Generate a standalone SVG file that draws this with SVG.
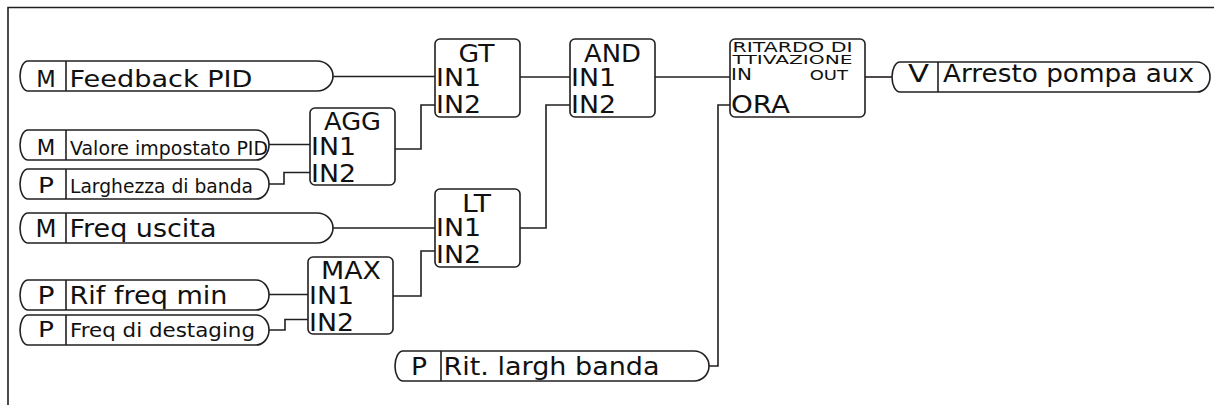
<svg xmlns="http://www.w3.org/2000/svg" width="1214" height="405" viewBox="0 0 1214 405">
<style>
.ln{fill:none;stroke:#231f20;stroke-width:1.6}
.pill{fill:#fff;stroke:#231f20;stroke-width:1.6}
.blk{fill:#fff;stroke:#231f20;stroke-width:1.6}
text{font-family:"DejaVu Sans","Liberation Sans",sans-serif;fill:#111}
.bt{font-size:25px}
.mid{text-anchor:middle}
</style>
<rect width="1214" height="405" fill="#fff"/>
<path class="ln" d="M8,405 V7.5 H1214"/>
<g id="connectors">
<path class="ln" d="M333,76.5 H435"/>
<path class="ln" d="M269,144.5 H310"/>
<path class="ln" d="M269,184 H284 V172.5 H310"/>
<path class="ln" d="M395,149 H421 V105 H435"/>
<path class="ln" d="M520,77 H570"/>
<path class="ln" d="M520,228 H546 V105 H570"/>
<path class="ln" d="M333,228 H435"/>
<path class="ln" d="M393,296 H421 V251 H435"/>
<path class="ln" d="M269,294.5 H308"/>
<path class="ln" d="M269,330 H285 V319.5 H308"/>
<path class="ln" d="M655,77 H730"/>
<path class="ln" d="M709,366 H718 V105 H730"/>
<path class="ln" d="M865,77 H892"/>
</g>
<g id="in-feedback">
<path class="pill" d="M28,61 H317 A16,15 0 0 1 317,91 H28 A8,15 0 0 1 28,61 Z"/>
<path class="ln" d="M66,61 V91"/>
<text x="46" y="87.3" font-size="22.5" class="mid" textLength="19.5" lengthAdjust="spacingAndGlyphs">M</text>
<text x="69.5" y="87.3" font-size="22.5" textLength="183" lengthAdjust="spacingAndGlyphs">Feedback PID</text>
</g>
<g id="in-valore">
<path class="pill" d="M28,130 H256 A13,15 0 0 1 256,160 H28 A8,15 0 0 1 28,130 Z"/>
<path class="ln" d="M66,130 V160"/>
<text x="46" y="155" font-size="21" class="mid" textLength="18.5" lengthAdjust="spacingAndGlyphs">M</text>
<text x="70" y="155" font-size="19.5" textLength="198" lengthAdjust="spacingAndGlyphs">Valore impostato PID</text>
</g>
<g id="in-larghezza">
<path class="pill" d="M28,169 H256 A13,15 0 0 1 256,199 H28 A8,15 0 0 1 28,169 Z"/>
<path class="ln" d="M66,169 V199"/>
<text x="46" y="193.3" font-size="20.5" class="mid" textLength="16" lengthAdjust="spacingAndGlyphs">P</text>
<text x="70" y="193.3" font-size="18.6" textLength="183" lengthAdjust="spacingAndGlyphs">Larghezza di banda</text>
</g>
<g id="in-frequscita">
<path class="pill" d="M28,213 H317 A16,15 0 0 1 317,243 H28 A8,15 0 0 1 28,213 Z"/>
<path class="ln" d="M66,213 V243"/>
<text x="46" y="236.7" font-size="25.5" class="mid" textLength="21" lengthAdjust="spacingAndGlyphs">M</text>
<text x="69.5" y="236.7" font-size="25.5" textLength="147" lengthAdjust="spacingAndGlyphs">Freq uscita</text>
</g>
<g id="in-riffreq">
<path class="pill" d="M28,280 H256 A13,15 0 0 1 256,310 H28 A8,15 0 0 1 28,280 Z"/>
<path class="ln" d="M66,280 V310"/>
<text x="46" y="304" font-size="24.7" class="mid" textLength="17" lengthAdjust="spacingAndGlyphs">P</text>
<text x="69.5" y="304" font-size="24.7" textLength="158" lengthAdjust="spacingAndGlyphs">Rif freq min</text>
</g>
<g id="in-destaging">
<path class="pill" d="M28,315 H256 A13,15 0 0 1 256,345 H28 A8,15 0 0 1 28,315 Z"/>
<path class="ln" d="M66,315 V345"/>
<text x="46" y="336.7" font-size="20.5" class="mid" textLength="16" lengthAdjust="spacingAndGlyphs">P</text>
<text x="70" y="336.7" font-size="19.5" textLength="185" lengthAdjust="spacingAndGlyphs">Freq di destaging</text>
</g>
<g id="in-ritlargh">
<path class="pill" d="M403,351 H694 A15,15 0 0 1 694,381 H403 A8,15 0 0 1 403,351 Z"/>
<path class="ln" d="M441,351 V381"/>
<text x="419" y="375" font-size="24.3" class="mid" textLength="16" lengthAdjust="spacingAndGlyphs">P</text>
<text x="443.5" y="375" font-size="24.3" textLength="216" lengthAdjust="spacingAndGlyphs">Rit. largh banda</text>
</g>
<g id="out-arresto">
<path class="pill" d="M900,62 H1197 A13,15 0 0 1 1197,92 H900 A8,15 0 0 1 900,62 Z"/>
<path class="ln" d="M938,62 V92"/>
<text x="918.5" y="82" font-size="25" class="mid" textLength="21" lengthAdjust="spacingAndGlyphs">V</text>
<text x="943" y="82" font-size="25" textLength="251" lengthAdjust="spacingAndGlyphs">Arresto pompa aux</text>
</g>
<g id="blk-agg">
<rect class="blk" x="310" y="108" width="85" height="77" rx="5"/>
<text x="352.5" y="130" class="bt mid" textLength="57" lengthAdjust="spacingAndGlyphs">AGG</text>
<text x="311" y="155" class="bt" textLength="45" lengthAdjust="spacingAndGlyphs">IN1</text>
<text x="311" y="182" class="bt" textLength="45" lengthAdjust="spacingAndGlyphs">IN2</text>
</g>
<g id="blk-gt">
<rect class="blk" x="435" y="39" width="85" height="78" rx="5"/>
<text x="476.5" y="62" class="bt mid" textLength="36" lengthAdjust="spacingAndGlyphs">GT</text>
<text x="436" y="86" class="bt" textLength="45" lengthAdjust="spacingAndGlyphs">IN1</text>
<text x="436" y="113" class="bt" textLength="45" lengthAdjust="spacingAndGlyphs">IN2</text>
</g>
<g id="blk-and">
<rect class="blk" x="570" y="39" width="85" height="78" rx="5"/>
<text x="612.5" y="62" class="bt mid" textLength="57" lengthAdjust="spacingAndGlyphs">AND</text>
<text x="571" y="86" class="bt" textLength="45" lengthAdjust="spacingAndGlyphs">IN1</text>
<text x="571" y="113" class="bt" textLength="45" lengthAdjust="spacingAndGlyphs">IN2</text>
</g>
<g id="blk-ritardo">
<rect class="blk" x="730" y="39" width="135" height="78" rx="5"/>
<text transform="translate(792.5,52) scale(1,0.72)" font-size="20" class="mid" textLength="120" lengthAdjust="spacingAndGlyphs">RITARDO DI</text>
<text transform="translate(792.5,63.5) scale(1,0.62)" font-size="19.7" class="mid" textLength="120" lengthAdjust="spacingAndGlyphs">TTIVAZIONE</text>
<text transform="translate(731,80) scale(1,0.78)" font-size="20">IN</text>
<text transform="translate(848,80) scale(1,0.78)" font-size="18" text-anchor="end">OUT</text>
<text x="731" y="113" font-size="25" textLength="59" lengthAdjust="spacingAndGlyphs">ORA</text>
</g>
<g id="blk-lt">
<rect class="blk" x="435" y="189" width="85" height="78" rx="5"/>
<text x="476.5" y="212" class="bt mid" textLength="29" lengthAdjust="spacingAndGlyphs">LT</text>
<text x="436" y="236" class="bt" textLength="45" lengthAdjust="spacingAndGlyphs">IN1</text>
<text x="436" y="263" class="bt" textLength="45" lengthAdjust="spacingAndGlyphs">IN2</text>
</g>
<g id="blk-max">
<rect class="blk" x="308" y="257" width="85" height="77" rx="5"/>
<text x="351" y="279" class="bt mid" textLength="60" lengthAdjust="spacingAndGlyphs">MAX</text>
<text x="309" y="304" class="bt" textLength="45" lengthAdjust="spacingAndGlyphs">IN1</text>
<text x="309" y="331" class="bt" textLength="45" lengthAdjust="spacingAndGlyphs">IN2</text>
</g>
</svg>
